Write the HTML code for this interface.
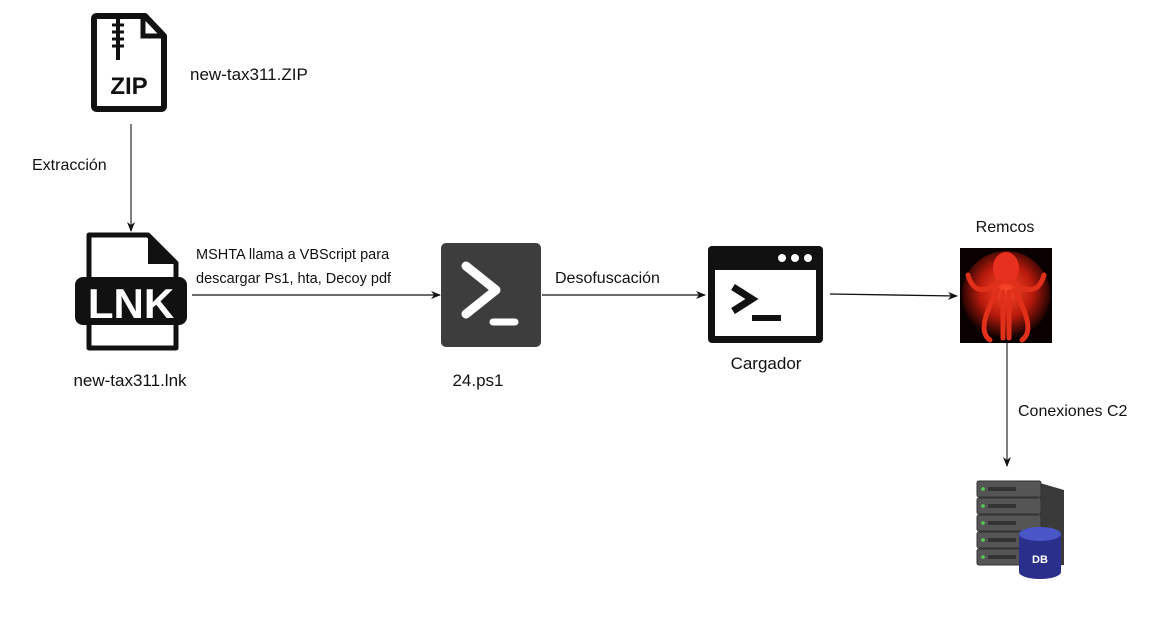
<!DOCTYPE html>
<html><head><meta charset="utf-8"><style>
html,body{margin:0;padding:0;background:#fff;}
svg{display:block;}
text{font-family:"Liberation Sans",Arial,sans-serif;fill:#111;}
</style></head><body>
<svg width="1170" height="619" viewBox="0 0 1170 619" xmlns="http://www.w3.org/2000/svg">
<defs>
<marker id="ah" markerWidth="10" markerHeight="8" refX="9" refY="4" orient="auto" markerUnits="userSpaceOnUse">
<path d="M0,0 L10,4 L0,8 L3,4 Z" fill="#111"/>
</marker>
<radialGradient id="oct" cx="50%" cy="45%" r="55%">
<stop offset="0" stop-color="#ff4a2a"/><stop offset="0.55" stop-color="#b81a0c"/><stop offset="1" stop-color="#0a0000"/>
</radialGradient>
</defs>

<path d="M97,16 L145,16 L164,36 L164,106 Q164,109 161,109 L97,109 Q94,109 94,106 L94,19 Q94,16 97,16 Z" fill="none" stroke="#111" stroke-width="6" stroke-linejoin="round"/>
<path d="M143,17 L143,36 L162,36" fill="none" stroke="#111" stroke-width="5"/>
<line x1="118" y1="18" x2="118" y2="60" stroke="#111" stroke-width="4"/>
<g stroke="#111" stroke-width="3"><line x1="112" y1="25" x2="124" y2="25"/><line x1="112" y1="32" x2="124" y2="32"/><line x1="112" y1="39" x2="124" y2="39"/><line x1="112" y1="46" x2="124" y2="46"/></g>
<text x="129" y="94" text-anchor="middle" font-size="24" font-weight="bold" style="fill:#111">ZIP</text>
<text x="190" y="80" font-size="17">new-tax311.ZIP</text>

<line x1="131" y1="124" x2="131" y2="231" stroke="#555" stroke-width="1.5" marker-end="url(#ah)"/>
<text x="32" y="170" font-size="16">Extracción</text>

<path d="M89,235 L148,235 L176,263 L176,348 L89,348 Z" fill="#fff" stroke="#111" stroke-width="5" stroke-linejoin="round"/>
<path d="M148,235 L148,264 L176,264 Z" fill="#111"/>
<rect x="75" y="277" width="112" height="48" rx="8" fill="#111"/>
<text x="131" y="318" text-anchor="middle" font-size="42" font-weight="bold" style="fill:#fff">LNK</text>
<text x="130" y="386" text-anchor="middle" font-size="17">new-tax311.lnk</text>

<line x1="192" y1="295" x2="440" y2="295" stroke="#111" stroke-width="1.3" marker-end="url(#ah)"/>
<text x="196" y="259" font-size="14.5">MSHTA llama a VBScript para</text>
<text x="196" y="283" font-size="14.5">descargar Ps1, hta, Decoy pdf</text>

<rect x="441" y="243" width="100" height="104" rx="5" fill="#3d3d3d"/>
<path d="M466,266 L496,290 L466,314" fill="none" stroke="#fff" stroke-width="9" stroke-linecap="round" stroke-linejoin="round"/>
<line x1="493" y1="322" x2="515" y2="322" stroke="#fff" stroke-width="7" stroke-linecap="round"/>
<text x="478" y="386" text-anchor="middle" font-size="17">24.ps1</text>

<line x1="542" y1="295" x2="705" y2="295" stroke="#111" stroke-width="1.3" marker-end="url(#ah)"/>
<text x="555" y="283" font-size="16">Desofuscación</text>

<rect x="708" y="246" width="115" height="97" rx="4" fill="#111"/>
<rect x="715" y="270" width="101" height="66" fill="#fff"/>
<circle cx="782" cy="258" r="4" fill="#fff"/><circle cx="795" cy="258" r="4" fill="#fff"/><circle cx="808" cy="258" r="4" fill="#fff"/>
<path d="M733,287 L752,299 L733,311" fill="none" stroke="#111" stroke-width="7" stroke-linejoin="miter"/>
<line x1="752" y1="318" x2="781" y2="318" stroke="#111" stroke-width="6"/>
<text x="766" y="369" text-anchor="middle" font-size="17">Cargador</text>

<line x1="830" y1="294" x2="957" y2="296" stroke="#111" stroke-width="1.3" marker-end="url(#ah)"/>

<text x="1005" y="232" text-anchor="middle" font-size="16">Remcos</text>
<rect x="960" y="248" width="92" height="95" fill="#0a0000"/>
<ellipse cx="1006" cy="295" rx="44" ry="44" fill="url(#oct)"/>
<ellipse cx="1006" cy="268" rx="13" ry="16" fill="#e83020"/>
<g fill="none" stroke="#e0301a" stroke-width="5" stroke-linecap="round">
<path d="M1000,282 Q975,300 968,275"/><path d="M1012,282 Q1037,300 1044,275"/>
<path d="M998,290 Q975,330 990,340"/><path d="M1014,290 Q1037,330 1022,340"/>
<path d="M1003,292 L1003,338"/><path d="M1009,292 L1009,338"/>
</g>

<line x1="1007" y1="343" x2="1007" y2="466" stroke="#555" stroke-width="1.5" marker-end="url(#ah)"/>
<text x="1018" y="416" font-size="16">Conexiones C2</text>

<path d="M1040,483 L1064,490 L1064,565 L1040,568 Z" fill="#3a3a3a"/>
<g>
<rect x="977" y="481" width="64" height="16" rx="2" fill="#555" stroke="#333"/>
<rect x="977" y="498" width="64" height="16" rx="2" fill="#555" stroke="#333"/>
<rect x="977" y="515" width="64" height="16" rx="2" fill="#555" stroke="#333"/>
<rect x="977" y="532" width="64" height="16" rx="2" fill="#555" stroke="#333"/>
<rect x="977" y="549" width="64" height="16" rx="2" fill="#555" stroke="#333"/>
</g>
<g fill="#5c5"><circle cx="983" cy="489" r="1.8"/><circle cx="983" cy="506" r="1.8"/><circle cx="983" cy="523" r="1.8"/><circle cx="983" cy="540" r="1.8"/><circle cx="983" cy="557" r="1.8"/></g>
<g fill="#333"><rect x="988" y="487" width="28" height="4"/><rect x="988" y="504" width="28" height="4"/><rect x="988" y="521" width="28" height="4"/><rect x="988" y="538" width="28" height="4"/><rect x="988" y="555" width="28" height="4"/></g>
<path d="M1019,534 L1019,572 A21,7 0 0 0 1061,572 L1061,534 Z" fill="#2a2f8c"/>
<ellipse cx="1040" cy="534" rx="21" ry="7" fill="#4a55c8"/>
<text x="1040" y="563" text-anchor="middle" font-size="11" font-weight="bold" style="fill:#fff">DB</text>
</svg>
</body></html>
